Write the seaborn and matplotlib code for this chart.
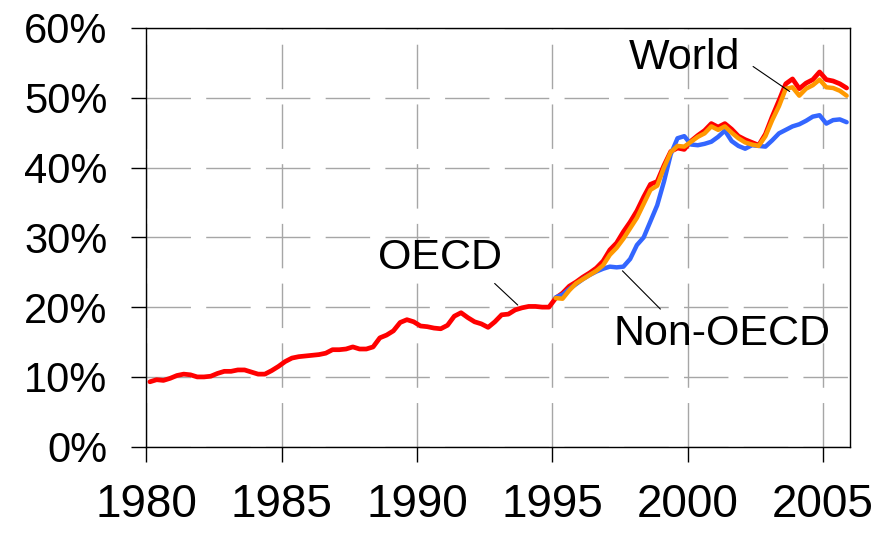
import numpy as np
import pandas as pd
import seaborn as sns
import matplotlib.pyplot as plt
from matplotlib.ticker import PercentFormatter

# quarterly share (%), OECD from 1980 Q1, others from 1995 Q1
oecd = [
    9.3, 9.6, 9.5, 9.8,      # 1980
    10.2, 10.4, 10.3, 10.0,  # 1981
    10.0, 10.1, 10.5, 10.8,  # 1982
    10.8, 11.0, 11.0, 10.7,  # 1983
    10.4, 10.4, 10.9, 11.5,  # 1984
    12.2, 12.7, 12.9, 13.0,  # 1985
    13.1, 13.2, 13.4, 13.9,  # 1986
    13.9, 14.0, 14.3, 14.0,  # 1987
    14.0, 14.3, 15.6, 16.0,  # 1988
    16.6, 17.8, 18.2, 17.9,  # 1989
    17.3, 17.2, 17.0, 16.9,  # 1990
    17.4, 18.7, 19.2, 18.5,  # 1991
    17.9, 17.6, 17.1, 17.9,  # 1992
    18.9, 19.0, 19.6, 19.9,  # 1993
    20.1, 20.1, 20.0, 20.0,  # 1994
    21.3, 22.0, 23.0, 23.6,  # 1995
    24.3, 24.9, 25.6, 26.6,  # 1996
    28.2, 29.2, 30.8, 32.2,  # 1997
    33.8, 35.8, 37.6, 38.0,  # 1998
    40.3, 42.3, 42.8, 42.6,  # 1999
    43.8, 44.6, 45.3, 46.3,  # 2000
    45.8, 46.3, 45.5, 44.5,  # 2001
    44.0, 43.6, 43.2, 44.8,  # 2002
    47.3, 49.6, 52.0, 52.7,  # 2003
    51.3, 52.1, 52.6, 53.7,  # 2004
    52.6, 52.4, 52.0, 51.4,  # 2005
]
non_oecd = [
    21.4, 21.8, 22.6, 23.3,  # 1995
    24.0, 24.6, 25.1, 25.5,  # 1996
    25.8, 25.7, 25.8, 26.9,  # 1997
    28.9, 30.0, 32.3, 34.6,  # 1998
    38.0, 41.9, 44.2, 44.5,  # 1999
    43.3, 43.2, 43.4, 43.7,  # 2000
    44.4, 45.3, 43.8, 43.1,  # 2001
    42.7, 43.2, 43.1, 43.0,  # 2002
    43.9, 44.9, 45.4, 45.9,  # 2003
    46.2, 46.7, 47.3, 47.5,  # 2004
    46.3, 46.8, 46.9, 46.5,  # 2005
]
world = [
    21.3, 21.2, 22.4, 23.4,  # 1995
    24.0, 24.6, 25.2, 26.0,  # 1996
    27.5, 28.5, 29.8, 31.3,  # 1997
    32.8, 34.8, 36.8, 37.4,  # 1998
    40.0, 42.2, 43.1, 43.0,  # 1999
    43.7, 44.4, 44.9, 45.9,  # 2000
    45.4, 45.9, 45.0, 44.2,  # 2001
    43.6, 43.3, 43.1, 44.5,  # 2002
    46.8, 48.8, 51.3, 51.5,  # 2003
    50.3, 51.3, 51.8, 52.6,  # 2004
    51.5, 51.4, 51.0, 50.3,  # 2005
]

quarters = np.arange(1980, 2006, 0.25) + 0.125
quarters_95 = quarters[60:]
year_ticks = [1980, 1985, 1990, 1995, 2000, 2005]

sns.set_style("white")
plt.rcParams['font.family'] = ['Liberation Sans', 'DejaVu Sans']
plt.rcParams['text.color'] = 'black'
plt.rcParams['xtick.color'] = 'black'
plt.rcParams['ytick.color'] = 'black'

fig = plt.figure(figsize=(8.91, 5.33), dpi=100)
ax = fig.add_axes([0.1644, 0.1619, 0.954 - 0.1644, 0.9475 - 0.1619])

sns.lineplot(x=quarters, y=oecd, color="#ff0000", lw=3.4, ax=ax)
sns.lineplot(x=quarters_95, y=non_oecd, color="#3366ff", lw=3.2, ax=ax)
sns.lineplot(x=quarters_95, y=world, color="#ff9900", lw=3.2, ax=ax)

ax.set_xlim(1980, 2006)
ax.set_ylim(0, 60)
ax.set_xticks(year_ticks)
ax.set_yticks(range(0, 61, 10))
ax.yaxis.set_major_formatter(PercentFormatter(decimals=0))

ax.grid(True, color="#a6a6a6", lw=1, linestyle=(0, (32, 11)))
ax.set_axisbelow(True)
for s in ax.spines.values():
    s.set_color("black")
    s.set_linewidth(1)

ax.tick_params(axis="y", direction="out", length=11, width=1, pad=17,
               labelsize=30, left=True, colors="black")
ax.tick_params(axis="x", direction="out", length=11, width=1, pad=15,
               labelsize=33, bottom=True, colors="black")

line = dict(arrowstyle="-", color="black", lw=0.8, shrinkB=0)
ax.annotate("OECD", xy=(1993.72, 20.3), xytext=(1990.83, 27.0),
            ha="center", va="center", fontsize=31,
            arrowprops=dict(line, relpos=(0.9, 0), shrinkA=2))
ax.annotate("World", xy=(2003.77, 50.9), xytext=(1999.9, 55.7),
            ha="center", va="center", fontsize=31,
            arrowprops=dict(line, relpos=(1.0, 0.5), shrinkA=8))
ax.annotate("Non-OECD", xy=(1997.59, 25.2), xytext=(2001.27, 16.1),
            ha="center", va="center", fontsize=31,
            arrowprops=dict(line, relpos=(0.24, 1.0), shrinkA=2))

fig.savefig("out.png", dpi=100)
